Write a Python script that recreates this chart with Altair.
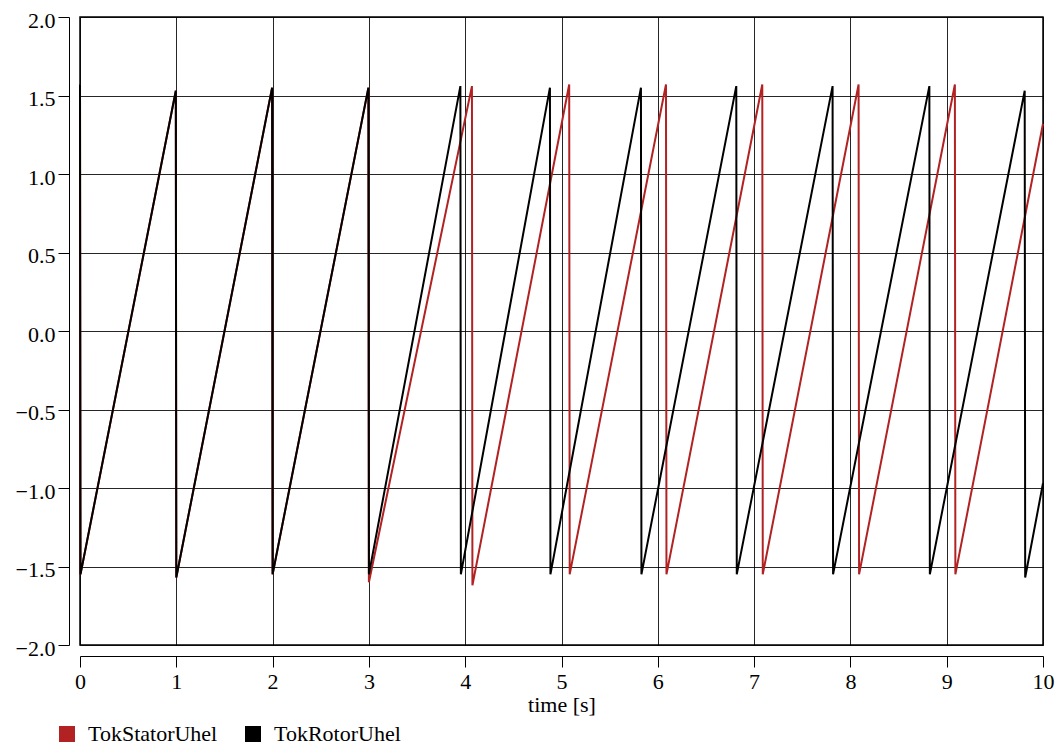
import altair as alt
import pandas as pd

# TokRotorUhel (black)
rotor_t = [0.0, 0.005, 0.995, 1.0, 1.995, 2.0, 2.995, 3.0, 3.95, 3.955, 4.88, 4.885,
           5.825, 5.83, 6.815, 6.82, 7.815, 7.82, 8.82, 8.825, 9.81, 9.815, 10.0]
rotor_v = [1.57, -1.55, 1.53, -1.57, 1.55, -1.55, 1.55, -1.55, 1.56, -1.55, 1.55, -1.55,
           1.55, -1.55, 1.56, -1.55, 1.56, -1.55, 1.56, -1.55, 1.53, -1.57, -0.97]

# TokStatorUhel (red)
stator_t = [0.0, 0.005, 0.995, 1.0, 1.995, 2.0, 2.995, 3.0, 4.07, 4.075, 5.08, 5.085,
            6.085, 6.09, 7.085, 7.09, 8.085, 8.09, 9.085, 9.09, 10.0]
stator_v = [1.57, -1.55, 1.53, -1.57, 1.55, -1.55, 1.55, -1.6, 1.56, -1.62, 1.57, -1.55,
            1.57, -1.55, 1.57, -1.55, 1.57, -1.55, 1.57, -1.55, 1.32]

series = ["TokStatorUhel", "TokRotorUhel"]
colors = ["#b22222", "#000000"]
x_ticks = list(range(0, 11))
y_ticks = [-2.0, -1.5, -1.0, -0.5, 0.0, 0.5, 1.0, 1.5, 2.0]

df = pd.concat([
    pd.DataFrame({"t": stator_t, "v": stator_v, "s": series[0]}),
    pd.DataFrame({"t": rotor_t, "v": rotor_v, "s": series[1]}),
])

FONT = "Liberation Serif"

x_enc = alt.X("t:Q", scale=alt.Scale(domain=[0, 10], nice=False, zero=False),
              axis=alt.Axis(values=x_ticks, title="time [s]", offset=11, tickSize=11,
                            labelPadding=4, titlePadding=2, grid=True, format="d",
                            labelFlush=False))
y_enc = alt.Y("v:Q", scale=alt.Scale(domain=[-2, 2], nice=False, zero=False),
              axis=alt.Axis(values=y_ticks, title=None, offset=11, tickSize=11,
                            labelPadding=3, labelOffset=3, grid=True, format=".1f",
                            labelFlush=False))
c_enc = alt.Color("s:N", scale=alt.Scale(domain=series, range=colors),
                  legend=alt.Legend(title=None, orient="none", direction="horizontal",
                                    legendX=-24, legendY=706, symbolType="square",
                                    symbolSize=64, symbolStrokeWidth=8, labelOffset=10,
                                    columnPadding=15, labelFontSize=22, labelFont=FONT,
                                    labelColor="#000", symbolOpacity=1))

base = alt.Chart(df)
red = base.transform_filter(alt.datum.s == series[0]).mark_line(strokeWidth=2).encode(
    x=x_enc, y=y_enc, color=c_enc)
black = base.transform_filter(alt.datum.s == series[1]).mark_line(strokeWidth=2).encode(
    x=x_enc, y=y_enc, color=c_enc)

chart = alt.layer(red, black).properties(
    width=963, height=628,
    background="white",
    autosize=alt.AutoSizeParams(type="none"),
    padding={"left": 72, "top": 9, "right": 12, "bottom": 102},
).configure_view(stroke="#000", strokeWidth=1.5).configure_axis(
    labelFont=FONT, titleFont=FONT, labelFontSize=22, titleFontSize=22,
    labelColor="#000", titleColor="#000", titleFontWeight="normal",
    domainColor="#000", tickColor="#000", domainWidth=1, tickWidth=1,
    gridColor="#000", gridWidth=1, gridOpacity=0.85,
)

chart.save("out.html", embed_options={"renderer": "svg", "actions": False})
